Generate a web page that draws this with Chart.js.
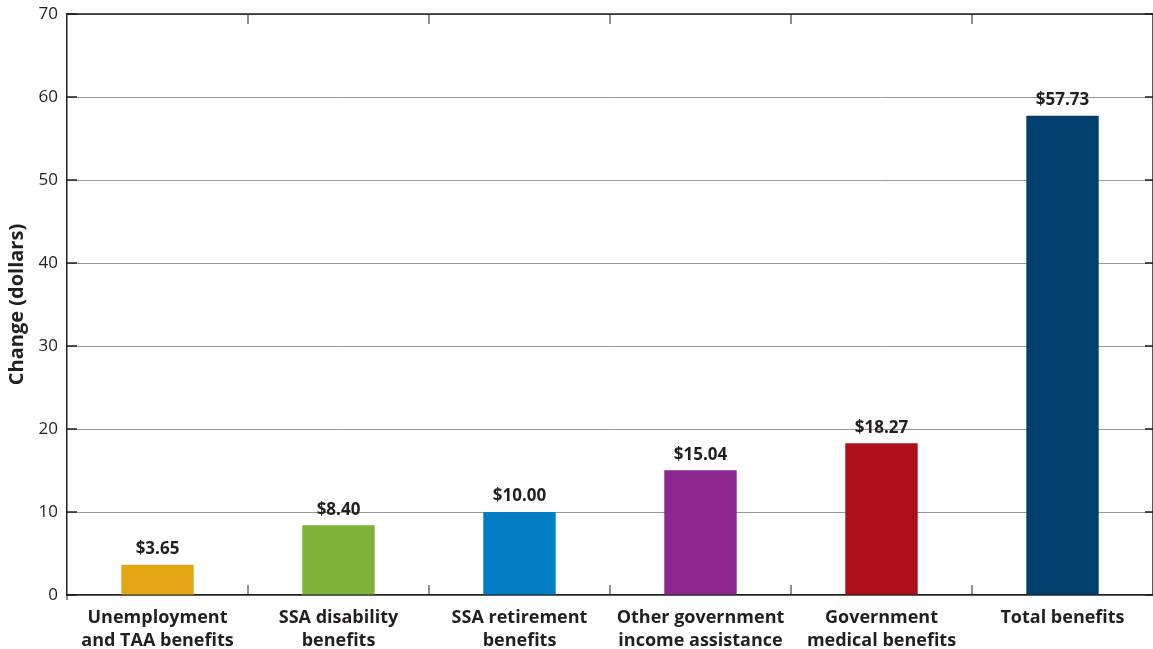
<!DOCTYPE html>
<html>
<head>
<meta charset="utf-8">
<script src="https://cdn.jsdelivr.net/npm/chart.js@4"></script>
<style>
  html, body { margin: 0; padding: 0; background: #fff; }
  #wrap { width: 1153px; height: 649px; position: relative; }
</style>
</head>
<body>
<div id="wrap"><canvas id="benefitsChart"></canvas></div>
<script>
// Change in benefits per category (dollars)
const categories = [
    ["Unemployment", "and TAA benefits"],
    ["SSA disability", "benefits"],
    ["SSA retirement", "benefits"],
    ["Other government", "income assistance"],
    ["Government", "medical benefits"],
    "Total benefits",
];
const changeValues = [3.65, 8.4, 10.0, 15.04, 18.27, 57.73];
const barColors = ["#e3a614", "#7fb239", "#007dc3", "#8b278f", "#af0f1a", "#003f6e"];
const yTicks = [0, 10, 20, 30, 40, 50, 60, 70];

const textColor = "#231f20";
const fontFamily = "'Open Sans', Lato, sans-serif";

// Frame, inward ticks and value labels
const framePlugin = {
    id: "frame",
    afterDraw(chart) {
        const { ctx, chartArea: a, scales } = chart;
        const x = scales.x, y = scales.y;
        ctx.save();
        ctx.strokeStyle = "#231f20";
        ctx.lineWidth = 1.5;
        ctx.beginPath();
        ctx.moveTo(a.left, a.top);
        ctx.lineTo(a.right, a.top);
        ctx.lineTo(a.right, a.bottom);
        ctx.stroke();

        // y ticks pointing inward on both sides
        yTicks.forEach((v) => {
            const py = y.getPixelForValue(v);
            ctx.beginPath();
            ctx.moveTo(a.left, py);
            ctx.lineTo(a.left + 10, py);
            ctx.moveTo(a.right, py);
            ctx.lineTo(a.right - 8, py);
            ctx.stroke();
        });

        // category boundary ticks, up from bottom and down from top
        ctx.lineWidth = 1;
        for (let i = 1; i < categories.length; i++) {
            const px = (x.getPixelForValue(i - 1) + x.getPixelForValue(i)) / 2;
            ctx.beginPath();
            ctx.moveTo(px, a.bottom);
            ctx.lineTo(px, a.bottom - 10);
            ctx.moveTo(px, a.top);
            ctx.lineTo(px, a.top + 10);
            ctx.stroke();
        }
        ctx.beginPath();
        ctx.moveTo(a.left, a.bottom);
        ctx.lineTo(a.left, a.bottom + 5);
        ctx.stroke();

        // value labels over bars
        ctx.fillStyle = textColor;
        ctx.font = "bold 17px " + fontFamily;
        ctx.textAlign = "center";
        ctx.textBaseline = "bottom";
        chart.getDatasetMeta(0).data.forEach((bar, i) => {
            ctx.fillText("$" + changeValues[i].toFixed(2), bar.x, bar.y - 7);
        });
        ctx.restore();
    },
};

const canvas = document.getElementById("benefitsChart");
new Chart(canvas, {
    type: "bar",
    data: {
        labels: categories,
        datasets: [
            {
                data: changeValues,
                backgroundColor: barColors,
                borderWidth: 0,
                barPercentage: 0.4,
                categoryPercentage: 1.0,
            },
        ],
    },
    options: {
        responsive: true,
        maintainAspectRatio: false,
        animation: false,
        layout: { padding: { top: 14, right: 0, left: 0, bottom: 0 } },
        plugins: {
            legend: { display: false },
            tooltip: { enabled: false },
        },
        scales: {
            x: {
                grid: { display: false, drawTicks: false },
                border: { color: "#231f20", width: 1.5 },
                ticks: {
                    color: textColor,
                    font: { family: fontFamily, size: 18, weight: "bold", lineHeight: 1.25 },
                    padding: 12,
                    maxRotation: 0,
                    autoSkip: false,
                },
                afterFit: (s) => {
                    s.height = 54;
                    s.paddingLeft = 0;
                    s.paddingRight = 0;
                },
            },
            y: {
                min: 0,
                max: 70,
                grid: { color: "#9a9a9a", lineWidth: 1, drawTicks: false },
                border: { color: "#231f20", width: 1.5 },
                afterBuildTicks: (s) => { s.ticks = yTicks.map((v) => ({ value: v })); },
                ticks: {
                    color: textColor,
                    font: { family: fontFamily, size: 17 },
                    padding: 9,
                },
                title: {
                    display: true,
                    text: "Change (dollars)",
                    color: textColor,
                    font: { family: fontFamily, size: 20, weight: "bold" },
                    padding: { top: 5, bottom: 0 },
                },
                afterFit: (s) => {
                    s.width = 67;
                    s.paddingTop = 0;
                    s.paddingBottom = 0;
                },
            },
        },
    },
    plugins: [framePlugin],
});
</script>
</body>
</html>
